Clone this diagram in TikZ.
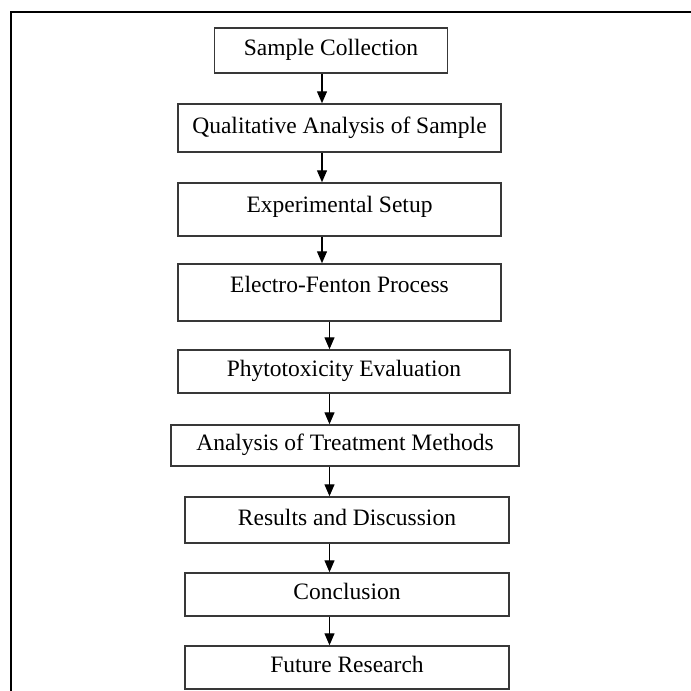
\documentclass[tikz,border=0pt]{standalone}
\usepackage{fontspec}
\setmainfont{Liberation Serif}
\usetikzlibrary{arrows.meta}
\begin{document}
\begin{tikzpicture}[x=1pt,y=-1pt,
  box/.style={draw=black!78,line width=1.5pt,rectangle,inner sep=0pt,
    font=\fontsize{23.5}{27}\selectfont,text height=16pt,text depth=5.5pt,align=center},
  arr/.style={-{Triangle[length=12pt,width=10pt]},line width=1.3pt,black},
  frame/.style={line width=2pt,black}]
\useasboundingbox (0,0) rectangle (691,691);
\draw[frame] (11,691) -- (11,12) -- (691,12);
\node[box,minimum width=233pt,minimum height=45pt] (b1) at (331,50.5) {Sample Collection};
\node[box,minimum width=323pt,minimum height=48pt] (b2) at (339.5,128) {Qualitative Analysis of Sample};
\node[box,minimum width=323pt,minimum height=53pt,text depth=10pt] (b3) at (339.5,209.5) {Experimental Setup};
\node[box,minimum width=323pt,minimum height=57pt,text depth=16pt] (b4) at (339.5,292.5) {Electro-Fenton Process};
\node[box,minimum width=332pt,minimum height=43pt] (b5) at (344,371.5) {Phytotoxicity Evaluation};
\node[box,minimum width=348pt,minimum height=41pt] (b6) at (345,445.5) {Analysis of Treatment Methods};
\node[box,minimum width=324pt,minimum height=46pt] (b7) at (347,520) {Results and Discussion};
\node[box,minimum width=324pt,minimum height=43pt] (b8) at (347,594.5) {Conclusion};
\node[box,minimum width=324pt,minimum height=43pt] (b9) at (347,667.5) {Future Research};
\coordinate (xl) at (322,0);
\coordinate (xr) at (329.5,0);
\draw[arr] (b1.south -| xl) -- (b2.north -| xl);
\draw[arr] (b2.south -| xl) -- (b3.north -| xl);
\draw[arr] (b3.south -| xl) -- (b4.north -| xl);
\draw[arr] (b4.south -| xr) -- (b5.north -| xr);
\draw[arr] (b5.south -| xr) -- (b6.north -| xr);
\draw[arr] (b6.south -| xr) -- (b7.north -| xr);
\draw[arr] (b7.south -| xr) -- (b8.north -| xr);
\draw[arr] (b8.south -| xr) -- (b9.north -| xr);
\end{tikzpicture}
\end{document}
